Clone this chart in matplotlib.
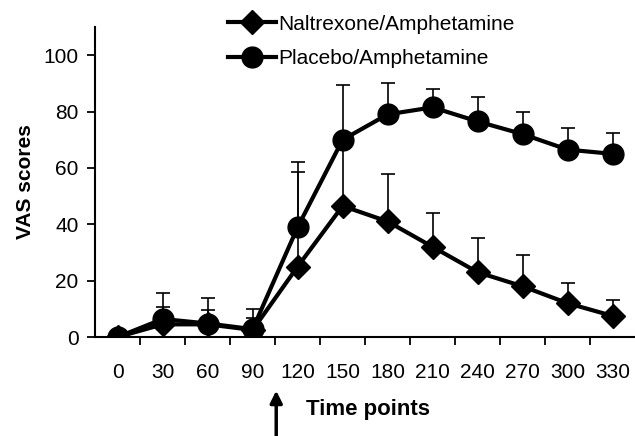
import numpy as np
import matplotlib.pyplot as plt

plt.rcParams['font.family'] = ['Liberation Sans', 'DejaVu Sans']

time_points = ['0', '30', '60', '90', '120', '150', '180', '210', '240', '270', '300', '330']

naltrexone = [0, 4.5, 4.5, 2.5, 25, 46.5, 41, 32, 23, 18, 12, 7.5]
naltrexone_top = [0, 10.6, 9.6, 6.7, 58.5, 69, 58, 44, 35, 29, 19, 13]

placebo = [0, 6.4, 4.8, 2.8, 39, 70, 79, 81.5, 76.5, 72, 66.5, 65]
placebo_top = [0, 15.6, 13.8, 9.8, 62, 89.5, 90, 88, 85, 80, 74, 72.5]

x = np.arange(len(time_points))

fig = plt.figure(figsize=(6.35, 4.36), dpi=100)
ax = fig.add_axes([0.15, 0.227, 0.85, 0.711])

nal = np.array(naltrexone)
pla = np.array(placebo)
nal_err = np.array(naltrexone_top) - nal
pla_err = np.array(placebo_top) - pla
nal_err[nal_err < 0] = 0
pla_err[pla_err < 0] = 0

ax.errorbar(x, nal, yerr=[np.zeros_like(nal_err), nal_err], fmt='none',
            ecolor='black', elinewidth=1.2, capsize=5, capthick=1.2, zorder=1)
ax.errorbar(x, pla, yerr=[np.zeros_like(pla_err), pla_err], fmt='none',
            ecolor='black', elinewidth=1.2, capsize=5, capthick=1.2, zorder=1)

ax.plot(x, nal, color='black', lw=3, marker='D', markersize=12,
        label='Naltrexone/Amphetamine', zorder=3)
ax.plot(x, pla, color='black', lw=3, marker='o', markersize=15,
        label='Placebo/Amphetamine', zorder=3)

ax.set_xlim(-0.5, 11.5)
ax.set_ylim(0, 110)
ax.set_yticks([0, 20, 40, 60, 80, 100])
ax.set_xticks(x)
ax.set_xticklabels(time_points)
ax.set_xticks(np.arange(0.5, 11, 1.0), minor=True)
ax.tick_params(axis='x', which='major', length=0, pad=19, labelsize=15)
ax.tick_params(axis='x', which='minor', length=6, width=1.3, direction='out')
ax.tick_params(axis='y', length=6, width=1.3, direction='out', labelsize=15,
               pad=6)

for side in ['top', 'right']:
    ax.spines[side].set_visible(False)
for side in ['left', 'bottom']:
    ax.spines[side].set_linewidth(1.5)

ax.set_ylabel('VAS scores', fontsize=15, fontweight='bold', labelpad=6)

fig.text(0.482, 0.06, 'Time points', fontsize=16, fontweight='bold',
         ha='left', va='center')
ax.annotate('', xy=(0.435, 0.104), xytext=(0.435, 0.0),
            xycoords='figure fraction', textcoords='figure fraction',
            arrowprops=dict(arrowstyle='-|>', color='black', lw=2.5,
                            mutation_scale=18, shrinkA=0, shrinkB=0),
            annotation_clip=False)

leg = ax.legend(loc='upper left', bbox_to_anchor=(0.212, 1.10), frameon=False,
                fontsize=15, handlelength=2.3, handletextpad=0.1,
                labelspacing=0.75)

fig.savefig('out.png', dpi=100)
